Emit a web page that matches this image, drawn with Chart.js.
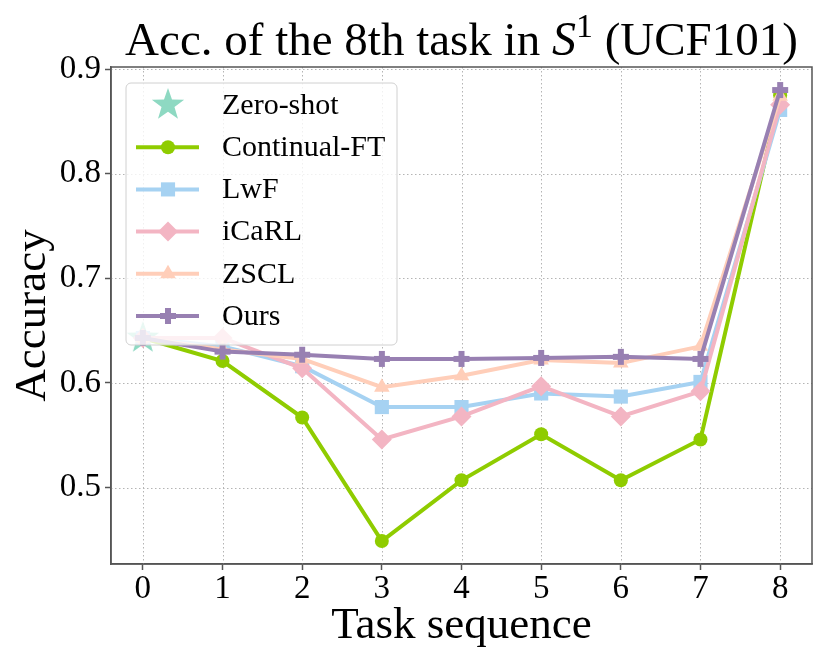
<!DOCTYPE html>
<html>
<head>
<meta charset="utf-8">
<script src="https://cdn.jsdelivr.net/npm/chart.js@4.4.1/dist/chart.umd.min.js"></script>
<style>
  body { margin: 0; background: #fff; }
  #wrap { width: 830px; height: 664px; }
</style>
</head>
<body>
<div id="wrap"><canvas id="accChart" width="830" height="664"></canvas></div>
<script>
const tasks = [0, 1, 2, 3, 4, 5, 6, 7, 8];
const xTicks = [0, 1, 2, 3, 4, 5, 6, 7, 8];
const yTicks = [0.5, 0.6, 0.7, 0.8, 0.9];

const zeroShot = [0.643];
const continualFT = [0.643, 0.621, 0.567, 0.449, 0.507, 0.551, 0.507, 0.546, 0.875];
const lwf = [0.643, 0.635, 0.616, 0.577, 0.577, 0.590, 0.587, 0.601, 0.861];
const icarl = [0.643, 0.643, 0.614, 0.546, 0.568, 0.597, 0.568, 0.592, 0.866];
const zscl = [0.643, 0.632, 0.623, 0.596, 0.607, 0.622, 0.619, 0.635, 0.874];
const ours = [0.643, 0.630, 0.627, 0.623, 0.623, 0.624, 0.625, 0.623, 0.880];

const SERIF = "'Liberation Serif', 'Times New Roman', serif";

// filled star / filled plus, since Chart.js only has outline versions
function starImage(color, r) {
  const c = document.createElement('canvas');
  c.width = c.height = Math.ceil(r * 2 + 2);
  const g = c.getContext('2d');
  const cx = c.width / 2, cy = c.height / 2;
  g.beginPath();
  for (let i = 0; i < 10; i++) {
    const rr = i % 2 === 0 ? r : r * 0.4;
    const a = -Math.PI / 2 + i * Math.PI / 5;
    g.lineTo(cx + rr * Math.cos(a), cy + rr * Math.sin(a));
  }
  g.closePath();
  g.fillStyle = color;
  g.fill();
  return c;
}
function plusImage(color, r, t) {
  const c = document.createElement('canvas');
  c.width = c.height = Math.ceil(r * 2 + 2);
  const g = c.getContext('2d');
  const cx = c.width / 2, cy = c.height / 2;
  g.fillStyle = color;
  g.fillRect(cx - t / 2, cy - r, t, 2 * r);
  g.fillRect(cx - r, cy - t / 2, 2 * r, t);
  return c;
}

const colors = {
  zero: '#8ed9c2',
  ft: '#8fcc00',
  lwf: '#a6d2f2',
  icarl: '#f3b5c3',
  zscl: '#ffceb9',
  ours: '#9880b2'
};
const starImg = starImage(colors.zero, 17);
const plusImg = plusImage(colors.ours, 8, 6);

function toPts(arr) {
  return arr.map((v, i) => ({ x: tasks[i], y: v }));
}
function lineSet(label, arr, color, style, radius, order) {
  return {
    label: label,
    data: toPts(arr),
    borderColor: color,
    backgroundColor: color,
    pointBackgroundColor: color,
    pointBorderWidth: 0,
    pointStyle: style,
    pointRadius: radius,
    borderWidth: 4,
    tension: 0,
    order: order
  };
}

const datasets = [
  {
    label: 'Zero-shot',
    data: toPts(zeroShot),
    showLine: false,
    pointStyle: starImg,
    pointRadius: 17,
    backgroundColor: colors.zero,
    borderColor: colors.zero,
    order: 6
  },
  lineSet('Continual-FT', continualFT, colors.ft, 'circle', 7, 5),
  lineSet('LwF', lwf, colors.lwf, 'rect', 10, 4),
  lineSet('iCaRL', icarl, colors.icarl, 'rectRot', 10, 3),
  lineSet('ZSCL', zscl, colors.zscl, 'triangle', 9, 2),
  lineSet('Ours', ours, colors.ours, plusImg, 8, 1)
];

// dotted grid + full frame like the matplotlib look
const gridFrame = {
  id: 'gridFrame',
  beforeDatasetsDraw(chart) {
    const { ctx, chartArea: a, scales } = chart;
    ctx.save();
    ctx.strokeStyle = '#b4b4b4';
    ctx.lineWidth = 1;
    ctx.setLineDash([1.5, 2.5]);
    xTicks.forEach(v => {
      const px = Math.round(scales.x.getPixelForValue(v)) + 0.5;
      ctx.beginPath(); ctx.moveTo(px, a.top); ctx.lineTo(px, a.bottom); ctx.stroke();
    });
    yTicks.forEach(v => {
      const py = Math.round(scales.y.getPixelForValue(v)) + 0.5;
      ctx.beginPath(); ctx.moveTo(a.left, py); ctx.lineTo(a.right, py); ctx.stroke();
    });
    ctx.restore();
  },
  afterDraw(chart) {
    const { ctx, chartArea: a } = chart;
    ctx.save();
    ctx.strokeStyle = '#555';
    ctx.lineWidth = 1.5;
    ctx.strokeRect(a.left, a.top, a.right - a.left, a.bottom - a.top);
    ctx.restore();
  }
};

// title with italic S and superscript 1
const titlePlugin = {
  id: 'titlePlugin',
  afterDraw(chart) {
    const { ctx, chartArea: a } = chart;
    const parts = [
      { t: 'Acc. of the 8th task in ', f: '47px ' + SERIF, dy: 0 },
      { t: 'S', f: 'italic 48px ' + SERIF, dy: 0 },
      { t: '1', f: '34px ' + SERIF, dy: -18 },
      { t: ' (UCF101)', f: '47px ' + SERIF, dy: 0 }
    ];
    ctx.save();
    let total = 0;
    parts.forEach(p => { ctx.font = p.f; p.w = ctx.measureText(p.t).width; total += p.w; });
    let x = (a.left + a.right) / 2 - total / 2;
    ctx.fillStyle = '#000';
    ctx.textBaseline = 'alphabetic';
    ctx.textAlign = 'left';
    parts.forEach(p => {
      ctx.font = p.f;
      ctx.fillText(p.t, x, 55 + p.dy);
      x += p.w;
    });
    ctx.restore();
  }
};

// legend box inside the plot, upper left
const innerLegend = {
  id: 'innerLegend',
  afterDraw(chart) {
    const { ctx, chartArea: a } = chart;
    const bx = a.left + 15, by = a.top + 16, bw = 271, bh = 262;
    ctx.save();
    ctx.beginPath();
    ctx.roundRect(bx, by, bw, bh, 5);
    ctx.fillStyle = 'rgba(255,255,255,0.8)';
    ctx.fill();
    ctx.strokeStyle = '#d0d0d0';
    ctx.lineWidth = 1;
    ctx.stroke();
    chart.data.datasets.forEach((ds, i) => {
      const y = by + 22 + i * 42.2;
      const mx = bx + 42;
      if (ds.showLine !== false) {
        ctx.strokeStyle = ds.borderColor;
        ctx.lineWidth = 4;
        ctx.beginPath(); ctx.moveTo(bx + 10, y); ctx.lineTo(bx + 73, y); ctx.stroke();
      }
      ctx.fillStyle = ds.backgroundColor;
      Chart.helpers.drawPoint(ctx, {
        pointStyle: ds.pointStyle, radius: ds.pointRadius, rotation: 0, borderWidth: 0
      }, mx, y);
      ctx.fillStyle = '#000';
      ctx.font = '30px ' + SERIF;
      ctx.textBaseline = 'middle';
      ctx.textAlign = 'left';
      ctx.fillText(ds.label, bx + 96, y + 1);
    });
    ctx.restore();
  }
};

new Chart(document.getElementById('accChart'), {
  type: 'line',
  data: { datasets: datasets },
  options: {
    responsive: false,
    animation: false,
    layout: { padding: { top: 67, right: 12, left: 0, bottom: 0 } },
    plugins: {
      legend: { display: false },
      tooltip: { enabled: false },
      title: { display: false }
    },
    scales: {
      x: {
        type: 'linear',
        min: -0.4,
        max: 8.4,
        afterBuildTicks: s => { s.ticks = xTicks.map(v => ({ value: v })); },
        afterFit: s => { s.height = 100; },
        ticks: {
          color: '#000',
          font: { family: SERIF, size: 33 },
          padding: 0,
          maxRotation: 0
        },
        grid: { drawOnChartArea: false, tickLength: 6, tickColor: '#555', tickWidth: 1.5 },
        border: { color: '#555', width: 1.5 },
        title: {
          display: true,
          text: 'Task sequence',
          color: '#000',
          font: { family: SERIF, size: 45, lineHeight: 1.2 },
          padding: { top: 0, bottom: 11 }
        }
      },
      y: {
        min: 0.427,
        max: 0.902,
        afterBuildTicks: s => { s.ticks = yTicks.map(v => ({ value: v })); },
        afterFit: s => { s.width = 111; },
        ticks: {
          color: '#000',
          font: { family: SERIF, size: 33 },
          padding: 4,
          callback: v => v.toFixed(1)
        },
        grid: { drawOnChartArea: false, tickLength: 6, tickColor: '#555', tickWidth: 1.5 },
        border: { color: '#555', width: 1.5 },
        title: {
          display: true,
          text: 'Accuracy',
          color: '#000',
          font: { family: SERIF, size: 45, lineHeight: 1.2 },
          padding: { top: 6, bottom: 0 }
        }
      }
    }
  },
  plugins: [gridFrame, innerLegend, titlePlugin]
});
</script>
</body>
</html>
